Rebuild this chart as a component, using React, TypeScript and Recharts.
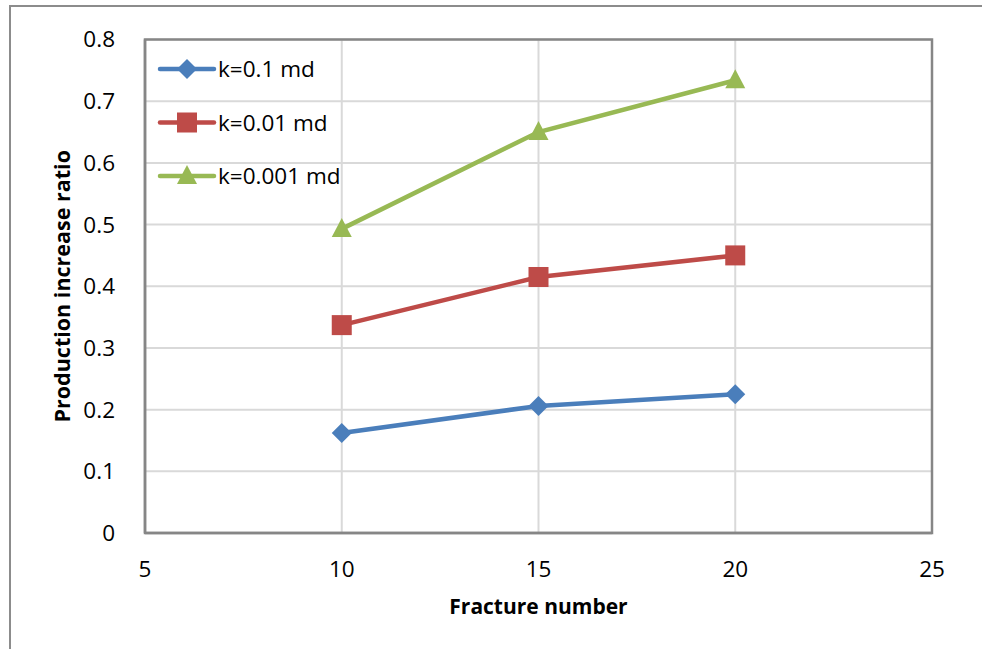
import React from 'react';
import { LineChart, Line, XAxis, YAxis, CartesianGrid, ReferenceArea } from 'recharts';

const fractureNumbers = [10, 15, 20];
const k01 = [0.162, 0.206, 0.225];
const k001 = [0.337, 0.415, 0.45];
const k0001 = [0.493, 0.65, 0.734];
const xTicks = [5, 10, 15, 20, 25];
const yTicks = [0, 0.1, 0.2, 0.3, 0.4, 0.5, 0.6, 0.7, 0.8];

const data = fractureNumbers.map((x, i) => ({ x, a: k01[i], b: k001[i], c: k0001[i] }));

const FONT = '"Open Sans", sans-serif';

const Marker = ({ kind, cx, cy, color }: any) => {
  if (cx == null || cy == null) return null;
  if (kind === 'diamond') {
    const r = 10;
    return <polygon points={`${cx},${cy - r} ${cx + r},${cy} ${cx},${cy + r} ${cx - r},${cy}`} fill={color} />;
  }
  if (kind === 'square') {
    const s = 10;
    return <rect x={cx - s} y={cy - s} width={2 * s} height={2 * s} fill={color} />;
  }
  const h = 10;
  return <polygon points={`${cx},${cy - h - 1} ${cx + 10},${cy + h - 2} ${cx - 10},${cy + h - 2}`} fill={color} />;
};

const series = [
  { key: 'a', name: 'k=0.1 md', color: '#4a7ebb', kind: 'diamond' },
  { key: 'b', name: 'k=0.01 md', color: '#be4b48', kind: 'square' },
  { key: 'c', name: 'k=0.001 md', color: '#98b954', kind: 'triangle' },
];

const LegendOverlay = () => (
  <svg width={240} height={150} style={{ position: 'absolute', left: 155, top: 57, overflow: 'visible' }}>
    {series.map((s, i) => {
      const y = 12 + i * 53.5;
      return (
        <g key={s.key}>
          <line x1={5} x2={59} y1={y} y2={y} stroke={s.color} strokeWidth={4.5} strokeLinecap="round" />
          <Marker kind={s.kind} cx={32} cy={y} color={s.color} />
          <text x={63} y={y + 8} fontFamily={FONT} fontSize={22.5} fill="#000">{s.name}</text>
        </g>
      );
    })}
  </svg>
);

export default function App() {
  return (
    <div style={{ position: 'absolute', left: 0, top: 0, width: 982, height: 649, background: '#fff', overflow: 'hidden' }}>
      <div style={{ position: 'absolute', left: 9, top: 5, right: -10, bottom: -10, borderLeft: '2px solid #8c8c8c', borderTop: '2px solid #8c8c8c' }} />
      <LineChart width={982} height={649} data={data} margin={{ top: 39.5, right: 50, bottom: 0, left: 0 }}>
        <CartesianGrid stroke="#d9d9d9" strokeWidth={2} />
        <XAxis
          dataKey="x"
          type="number"
          domain={[5, 25]}
          ticks={xTicks}
          height={116}
          tickLine={false}
          tickMargin={22}
          axisLine={{ stroke: '#868686', strokeWidth: 2.5 }}
          tick={{ fontFamily: FONT, fontSize: 22.5, fill: '#000' }}
          label={{ value: 'Fracture number', position: 'center', dy: 16, style: { fontFamily: FONT, fontSize: 21, fontWeight: 700, fill: '#000' } }}
        />
        <YAxis
          type="number"
          domain={[0, 0.8]}
          ticks={yTicks}
          width={145}
          tickLine={false}
          tickMargin={24}
          axisLine={{ stroke: '#868686', strokeWidth: 2.5 }}
          tick={{ fontFamily: FONT, fontSize: 22.5, fill: '#000' }}
          label={{ value: 'Production increase ratio', angle: -90, position: 'center', dx: -10, style: { fontFamily: FONT, fontSize: 21.5, fontWeight: 700, fill: '#000', textAnchor: 'middle' } }}
        />
        <ReferenceArea x1={5} x2={25} y1={0} y2={0.8} fill="none" stroke="#868686" strokeWidth={2.5} />
        {series.map((s) => (
          <Line
            key={s.key}
            dataKey={s.key}
            name={s.name}
            stroke={s.color}
            strokeWidth={4.5}
            isAnimationActive={false}
            dot={(p: any) => <Marker key={`${s.key}-${p.index}`} kind={s.kind} cx={p.cx} cy={p.cy} color={s.color} />}
            activeDot={false}
          />
        ))}
      </LineChart>
      <LegendOverlay />
    </div>
  );
}
